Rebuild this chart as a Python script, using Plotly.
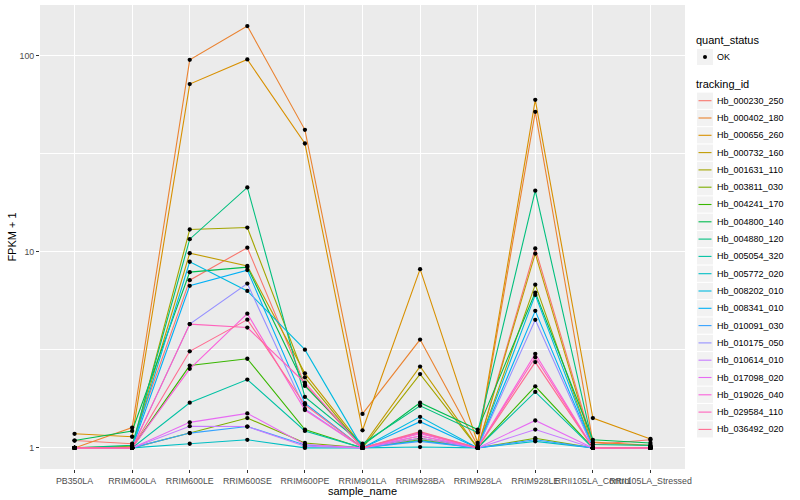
import plotly.graph_objects as go

samples = ["PB350LA", "RRIM600LA", "RRIM600LE", "RRIM600SE", "RRIM600PE", "RRIM901LA",
           "RRIM928BA", "RRIM928LA", "RRIM928LE", "RRII105LA_Control", "RRII105LA_Stressed"]

tracking_ids = ["Hb_000230_250", "Hb_000402_180", "Hb_000656_260", "Hb_000732_160", "Hb_001631_110",
                "Hb_003811_030", "Hb_004241_170", "Hb_004800_140", "Hb_004880_120", "Hb_005054_320",
                "Hb_005772_020", "Hb_008202_010", "Hb_008341_010", "Hb_010091_030", "Hb_010175_050",
                "Hb_010614_010", "Hb_017098_020", "Hb_019026_040", "Hb_029584_110", "Hb_036492_020"]

colors = ["#F8766D", "#EA8331", "#D89000", "#C09B00", "#A3A500", "#7CAE00", "#39B600", "#00BB4E",
          "#00BF7D", "#00C1A3", "#00BFC4", "#00BAE0", "#00B0F6", "#35A2FF", "#9590FF", "#C77CFF",
          "#E76BF3", "#FA62DB", "#FF62BC", "#FF6C91"]

# FPKM + 1 per tracking_id, in sample order
v_000230_250 = [1.09, 1.05, 7.17, 10.5, 2.10, 1.00, 1.15, 1.00, 10.4, 1.04, 1.10]
v_000402_180 = [1.00, 1.27, 95.4, 141.8, 41.9, 1.49, 3.57, 1.03, 51.8, 1.07, 1.03]
v_000656_260 = [1.18, 1.14, 71.7, 95.8, 35.7, 1.23, 8.16, 1.06, 59.6, 1.42, 1.11]
v_000732_160 = [1.00, 1.02, 9.85, 8.48, 2.40, 1.02, 2.60, 1.00, 9.8, 1.00, 1.00]
v_001631_110 = [1.00, 1.00, 13.0, 13.3, 2.29, 1.00, 2.38, 1.00, 6.8, 1.00, 1.00]
v_003811_030 = [1.00, 1.00, 1.19, 1.42, 1.06, 1.00, 1.10, 1.00, 1.12, 1.00, 1.00]
v_004241_170 = [1.00, 1.00, 2.63, 2.85, 1.24, 1.00, 1.12, 1.00, 2.06, 1.00, 1.00]
v_004800_140 = [1.09, 1.22, 7.88, 8.36, 2.07, 1.03, 1.70, 1.24, 6.2, 1.10, 1.06]
v_004880_120 = [1.00, 1.03, 11.6, 21.3, 1.82, 1.05, 1.64, 1.20, 20.5, 1.04, 1.03]
v_005054_320 = [1.00, 1.00, 1.70, 2.23, 1.22, 1.00, 1.09, 1.00, 1.93, 1.00, 1.00]
v_005772_020 = [1.00, 1.00, 1.05, 1.10, 1.00, 1.00, 1.01, 1.00, 1.08, 1.00, 1.00]
v_008202_010 = [1.00, 1.00, 8.9, 6.32, 3.17, 1.00, 1.44, 1.00, 6.03, 1.00, 1.00]
v_008341_010 = [1.00, 1.00, 6.71, 8.07, 1.69, 1.00, 1.36, 1.00, 5.0, 1.00, 1.00]
v_010091_030 = [1.00, 1.00, 1.19, 1.285, 1.035, 1.00, 1.08, 1.00, 1.10, 1.00, 1.00]
v_010175_050 = [1.00, 1.00, 4.28, 6.89, 1.58, 1.00, 1.20, 1.00, 4.5, 1.00, 1.00]
v_010614_010 = [1.00, 1.00, 1.29, 1.285, 1.02, 1.00, 1.12, 1.00, 1.24, 1.00, 1.00]
v_017098_020 = [1.00, 1.00, 1.35, 1.50, 1.04, 1.00, 1.15, 1.00, 1.38, 1.00, 1.00]
v_019026_040 = [1.00, 1.00, 2.53, 4.84, 1.56, 1.00, 1.18, 1.00, 3.02, 1.00, 1.00]
v_029584_110 = [1.00, 1.00, 4.28, 4.11, 2.15, 1.00, 1.19, 1.00, 2.9, 1.00, 1.00]
v_036492_020 = [1.00, 1.00, 3.11, 4.51, 1.66, 1.00, 1.21, 1.00, 2.74, 1.00, 1.00]

series = [v_000230_250, v_000402_180, v_000656_260, v_000732_160, v_001631_110, v_003811_030,
          v_004241_170, v_004800_140, v_004880_120, v_005054_320, v_005772_020, v_008202_010,
          v_008341_010, v_010091_030, v_010175_050, v_010614_010, v_017098_020, v_019026_040,
          v_029584_110, v_036492_020]

y_ticks = [1, 10, 100]
y_tick_labels = ["1", "10", "100"]
y_minor = [10 ** 0.5, 10 ** 1.5]

FONT = "Liberation Sans"
W, H = 800, 500
ML, MR, MT, MB = 40, 115, 5, 31
PW, PH = W - ML - MR, H - MT - MB


def px2x(px):
    return (px - ML) / PW


def px2y(py):
    return (H - MB - py) / PH


fig = go.Figure()

for tid, col, vals in zip(tracking_ids, colors, series):
    fig.add_trace(go.Scatter(
        x=samples, y=vals, mode="lines", name=tid,
        line=dict(color=col, width=1.1), showlegend=False,
    ))

all_x, all_y = [], []
for vals in series:
    all_x += samples
    all_y += vals
fig.add_trace(go.Scatter(
    x=all_x, y=all_y, mode="markers", name="OK",
    marker=dict(color="black", size=4.3), showlegend=False,
))

# ---- manual ggplot-style legend ----
shapes, annos = [], []
KX0, KX1 = 697, 713


def text(px, py, s, size, color="black", xanchor="left"):
    annos.append(dict(x=px2x(px), y=px2y(py), xref="paper", yref="paper", text=s,
                      showarrow=False, xanchor=xanchor, yanchor="middle",
                      font=dict(family=FONT, size=size, color=color)))


text(694, 40.5, "quant_status", 11)
shapes.append(dict(type="rect", xref="paper", yref="paper", x0=px2x(KX0), x1=px2x(KX1),
                   y0=px2y(49), y1=px2y(65), fillcolor="#F2F2F2", line=dict(width=0), layer="above"))
shapes.append(dict(type="circle", xref="paper", yref="paper", x0=px2x(703), x1=px2x(707),
                   y0=px2y(55), y1=px2y(59), fillcolor="black", line=dict(width=0), layer="above"))
text(715, 57, "OK", 9)
text(694, 84.3, "tracking_id", 11)
for i, (tid, col) in enumerate(zip(tracking_ids, colors)):
    cy = 100.7 + 17.3 * i
    shapes.append(dict(type="rect", xref="paper", yref="paper", x0=px2x(KX0), x1=px2x(KX1),
                       y0=px2y(cy - 8.1), y1=px2y(cy + 8.1), fillcolor="#F2F2F2",
                       line=dict(width=0), layer="above"))
    shapes.append(dict(type="line", xref="paper", yref="paper", x0=px2x(698.5), x1=px2x(711.5),
                       y0=px2y(cy), y1=px2y(cy), line=dict(color=col, width=1.1), layer="above"))
    text(715, cy, tid, 9)

# x-axis title
text(ML + PW / 2, 491, "sample_name", 11, xanchor="center")

fig.update_layout(
    width=W, height=H,
    margin=dict(l=ML, r=MR, t=MT, b=MB, autoexpand=False),
    paper_bgcolor="white",
    plot_bgcolor="#EBEBEB",
    font=dict(family=FONT, size=9, color="#4D4D4D"),
    showlegend=False,
    shapes=shapes,
    annotations=annos,
    xaxis=dict(
        type="category", categoryorder="array", categoryarray=samples,
        range=[-0.6, len(samples) - 0.4],
        showgrid=True, gridcolor="white", gridwidth=1.1,
        zeroline=False, showline=False, automargin=False,
        ticks="outside", ticklen=3, tickcolor="#333333", tickwidth=1,
        tickangle=0,
        tickfont=dict(size=8.8, color="#4D4D4D", family=FONT),
    ),
    yaxis=dict(
        type="log",
        range=[-0.1076, 2.259],
        tickmode="array", tickvals=y_ticks, ticktext=y_tick_labels,
        showgrid=True, gridcolor="white", gridwidth=1.1,
        minor=dict(tickmode="array", tickvals=y_minor, showgrid=True, gridcolor="white", gridwidth=0.55, ticks=""),
        zeroline=False, showline=False, automargin=False,
        ticks="outside", ticklen=3, tickcolor="#333333", tickwidth=1,
        tickfont=dict(size=8.8, color="#4D4D4D", family=FONT),
        title=dict(text="FPKM + 1", font=dict(size=11, color="black", family=FONT), standoff=0),
    ),
)

fig.write_html("out.html", config={"displayModeBar": False},
               post_script="document.body.style.margin='0px';document.body.style.padding='0px';")
